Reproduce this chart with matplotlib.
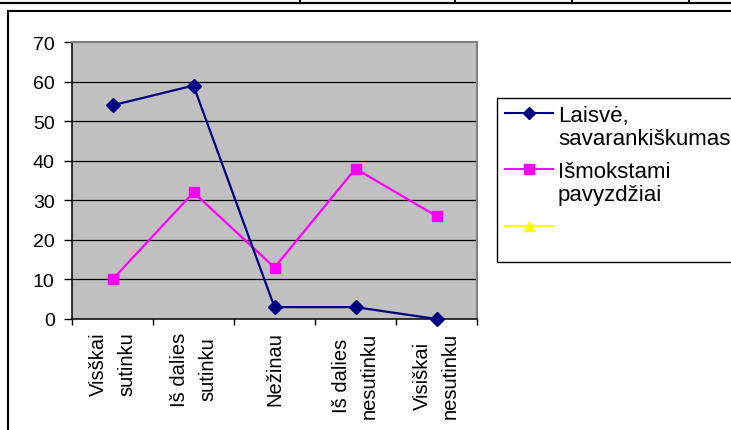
import matplotlib
matplotlib.use("Agg")
import matplotlib.pyplot as plt
from matplotlib.lines import Line2D
from matplotlib.patches import Rectangle

plt.rcParams['font.family'] = ['Liberation Sans', 'DejaVu Sans']

# Answer categories (x axis) and the two response series
categories = ["Visškai\nsutinku", "Iš dalies\nsutinku", "Nežinau",
              "Iš dalies\nnesutinku", "Visiškai\nnesutinku"]
laisve = [54, 59, 3, 3, 0]
ismokstami = [10, 32, 13, 38, 26]
series_names = ["Laisvė,\nsavarankiškumas", "Išmokstami\npavyzdžiai", ""]
y_ticks = [0, 10, 20, 30, 40, 50, 60, 70]

W, H = 731, 431
fig = plt.figure(figsize=(W / 100, H / 100), dpi=100)


def fx(px):
    return px / W


def fy(py):
    return 1 - py / H


# plot area
ax = fig.add_axes([fx(72), fy(320), fx(477) - fx(72), fy(43) - fy(320)])
ax.set_facecolor("#C0C0C0")

x = list(range(len(categories)))
ax.plot(x, ismokstami, color="#FF00FF", lw=1.6, marker="s", markersize=7.4,
        markeredgecolor="#FF00FF", markerfacecolor="#FF00FF", zorder=3, clip_on=False)
ax.plot(x, laisve, color="#000080", lw=1.6, marker="D", markersize=7.4,
        markeredgecolor="#000080", markerfacecolor="#000080", zorder=4, clip_on=False)

ax.set_xlim(-0.5, len(categories) - 0.5)
ax.set_ylim(0, 70)

# y axis
ax.set_yticks(y_ticks)
ax.set_yticklabels([str(v) for v in y_ticks], fontsize=14)
ax.tick_params(axis="y", direction="out", length=5.5, width=1, pad=7, colors="black")
for v in y_ticks[1:-1]:
    ax.axhline(v, color="black", lw=0.9, zorder=1)

# x axis: tick marks between categories, labels at the centres
ax.set_xticks([i - 0.5 for i in range(len(categories) + 1)])
ax.set_xticklabels([])
ax.tick_params(axis="x", which="major", direction="out", length=4.5, width=1)
ax.set_xticks(x, minor=True)
ax.set_xticklabels(categories, minor=True, rotation=90, fontsize=14.5,
                   multialignment="center", linespacing=1.6)
ax.tick_params(axis="x", which="minor", length=0, pad=9)
for lbl in ax.get_xticklabels(minor=True):
    lbl.set_verticalalignment("top")

for side in ("left", "bottom"):
    ax.spines[side].set_color("black")
    ax.spines[side].set_linewidth(1.1)
for side in ("top", "right"):
    ax.spines[side].set_color("#808080")
    ax.spines[side].set_linewidth(1.5)

# chart frame
fig.add_artist(Rectangle((fx(8), fy(H + 10)), fx(W + 10) - fx(8), fy(12) - fy(H + 10),
                         transform=fig.transFigure, fill=False, edgecolor="black",
                         lw=1.5, clip_on=False))

# table edge above the chart
fig.add_artist(Line2D([0, 1], [fy(3.8), fy(3.8)], transform=fig.transFigure,
                      color="black", lw=1.6))
for vx in (300, 455, 572, 689):
    fig.add_artist(Line2D([fx(vx), fx(vx)], [fy(0), fy(3.8)], transform=fig.transFigure,
                          color="black", lw=1.4))

# legend
fig.add_artist(Rectangle((fx(497), fy(263)), fx(W + 10) - fx(497), fy(99) - fy(263),
                         transform=fig.transFigure, fill=True, facecolor="white",
                         edgecolor="black", lw=1.0))
legend_styles = [("#000080", "D", 6.5), ("#FF00FF", "s", 6.5), ("#FFFF00", "^", 7.5)]
legend_rows = [114, 170, 227]
for (col, mk, ms), name, ry in zip(legend_styles, series_names, legend_rows):
    fig.add_artist(Line2D([fx(505), fx(553)], [fy(ry), fy(ry)], transform=fig.transFigure,
                          color=col, lw=1.5))
    fig.add_artist(Line2D([fx(529)], [fy(ry)], transform=fig.transFigure, color=col,
                          marker=mk, markersize=ms, markerfacecolor=col, markeredgecolor=col))
    if name:
        fig.text(fx(558), fy(ry - 8), name, fontsize=16, va="top", ha="left",
                 linespacing=1.12)

fig.savefig("out.png", dpi=100)
